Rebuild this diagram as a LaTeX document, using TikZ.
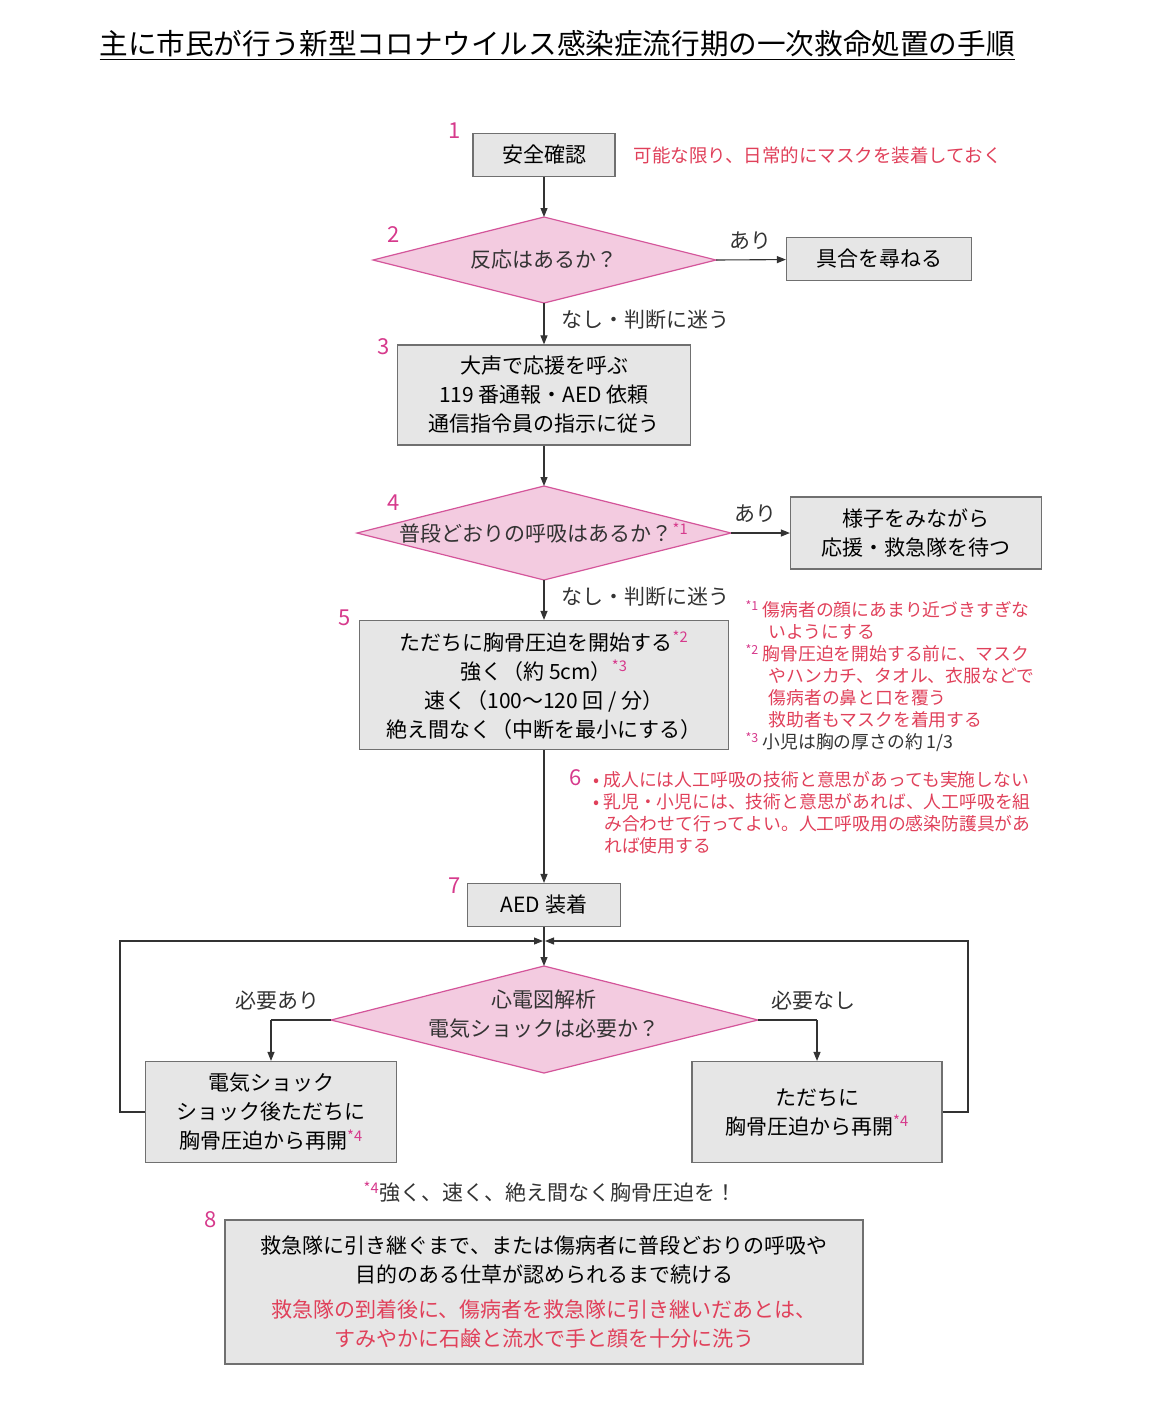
\documentclass[tikz,border=0pt]{standalone}
\usepackage{fontspec}
\setmainfont{Noto Sans CJK JP}
\usetikzlibrary{shapes.geometric,arrows.meta}
\definecolor{bx}{HTML}{E6E6E6}
\definecolor{bd}{HTML}{707070}
\definecolor{pk}{HTML}{F3CBE0}
\definecolor{pkb}{HTML}{D4559A}
\definecolor{rd}{HTML}{E0405A}
\definecolor{nm}{HTML}{D63A8C}
\newcommand{\fnm}[1]{{\color{nm}\textsuperscript{#1}}}
\begin{document}
\begin{tikzpicture}[x=1pt,y=-1pt,
  box/.style={draw=bd,fill=bx,line width=1.2pt,align=center,font=\fontsize{21}{29}\selectfont,inner sep=0},
  dia/.style={draw=pkb,fill=pk,line width=1.2pt},
  num/.style={text=nm,font=\fontsize{22}{22}\selectfont},
  lab/.style={font=\fontsize{21}{21}\selectfont,text=black!80},
  red/.style={text=rd,font=\fontsize{17.8}{22}\selectfont,align=left},
  ln/.style={line width=1.1pt,draw=black!80},
  ar/.style={ln,-{Triangle[length=9pt,width=7pt]}}]
\useasboundingbox (0,0) rectangle (1174,1406);
\node[anchor=west,font=\fontsize{28.6}{28.6}\selectfont] (title) at (96,45) {\underline{主に市民が行う新型コロナウイルス感染症流行期の一次救命処置の手順}};
% 1
\node[box,minimum width=142,minimum height=43] (b1) at (544,155) {安全確認};
\node[num] (n1) at (455,131) {1};
\node[red,anchor=west,font=\fontsize{18.5}{18.5}\selectfont] (r1) at (630,155) {可能な限り、日常的にマスクを装着しておく};
% 2
\coordinate (d2t) at (544,217); \coordinate (d2b) at (544,303);
\coordinate (d2l) at (373,260); \coordinate (d2r) at (716,260);
\draw[dia] (d2t)--(d2r)--(d2b)--(d2l)--cycle;
\node[lab] (t2) at (544,260) {反応はあるか？};
\node[num] (n2) at (394,235) {2};
\node[lab] (a2) at (750,241) {あり};
\node[box,minimum width=185,minimum height=43] (b2) at (879,259) {具合を尋ねる};
\draw[ar] (b1) -- (d2t);
\draw[ar] (d2r) -- (b2);
% 3
\node[box,minimum width=293,minimum height=100] (b3) at (544,395) {大声で応援を呼ぶ\\119 番通報・AED 依頼\\通信指令員の指示に従う};
\node[num] (n3) at (384,347) {3};
\node[lab,anchor=west] (x2) at (558,320) {なし・判断に迷う};
\draw[ar] (d2b) -- (b3);
% 4
\coordinate (d4t) at (544,486); \coordinate (d4b) at (544,580);
\coordinate (d4l) at (357,533); \coordinate (d4r) at (731,533);
\draw[dia] (d4t)--(d4r)--(d4b)--(d4l)--cycle;
\node[lab] (t4) at (544,533) {普段どおりの呼吸はあるか？\fnm{*1}};
\node[num] (n4) at (394,503) {4};
\node[lab] (a4) at (755,514) {あり};
\node[box,minimum width=251,minimum height=72] (b4) at (916,533) {様子をみながら\\応援・救急隊を待つ};
\draw[ar] (b3) -- (d4t);
\draw[ar] (d4r) -- (b4);
% 5
\node[box,minimum width=369,minimum height=129] (b5) at (544,685) {ただちに胸骨圧迫を開始する\fnm{*2}\\強く（約 5cm）\fnm{*3}\\速く（100〜120 回 / 分）\\絶え間なく（中断を最小にする）};
\node[num] (n5) at (345,618) {5};
\node[lab,anchor=west] (x4) at (558,597) {なし・判断に迷う};
\draw[ar] (d4b) -- (b5);
\node[red,anchor=north west] (fn) at (742,597) {\fnm{*1} 傷病者の顔にあまり近づきすぎな\\\hspace*{1.3em}いようにする\\\fnm{*2} 胸骨圧迫を開始する前に、マスク\\\hspace*{1.3em}やハンカチ、タオル、衣服などで\\\hspace*{1.3em}傷病者の鼻と口を覆う\\\hspace*{1.3em}救助者もマスクを着用する\\{\color{black!80}\fnm{*3} 小児は胸の厚さの約 1/3}};
% 6
\node[num] (n6) at (576,778) {6};
\node[red,anchor=north west] (r6) at (590,768) {• 成人には人工呼吸の技術と意思があっても実施しない\\• 乳児・小児には、技術と意思があれば、人工呼吸を組\\\hspace*{0.6em}み合わせて行ってよい。人工呼吸用の感染防護具があ\\\hspace*{0.6em}れば使用する};
% 7
\node[box,minimum width=153,minimum height=43] (b7) at (544,905) {AED 装着};
\node[num] (n7) at (455,886) {7};
\draw[ar] (b5) -- (b7);
% ECG
\coordinate (d6t) at (544,966); \coordinate (d6b) at (544,1073);
\coordinate (d6l) at (331,1020); \coordinate (d6r) at (758,1020);
\draw[dia] (d6t)--(d6r)--(d6b)--(d6l)--cycle;
\node[lab,align=center,font=\fontsize{21}{29}\selectfont] (t6) at (544,1014) {心電図解析\\電気ショックは必要か？};
\draw[ar] (b7) -- (d6t);
\node[box,minimum width=251,minimum height=101] (bl) at (271,1112) {電気ショック\\ショック後ただちに\\胸骨圧迫から再開\fnm{*4}};
\node[box,minimum width=250,minimum height=101] (br) at (817,1112) {ただちに\\胸骨圧迫から再開\fnm{*4}};
\node[lab] (yl) at (277,1001) {必要あり};
\node[lab] (yr) at (813,1001) {必要なし};
\coordinate (cl) at (271,1020); \coordinate (cr) at (817,1020);
\draw[ln] (d6l) -- (cl); \draw[ar] (cl) -- (bl.north);
\draw[ln] (d6r) -- (cr); \draw[ar] (cr) -- (br.north);
\coordinate (m) at (544,941);
\coordinate (ll) at (120,941); \coordinate (lb) at (120,1112);
\coordinate (rr) at (968,941); \coordinate (rb) at (968,1112);
\draw[ar] (bl.west) -- (lb) -- (ll) -- ([xshift=-1pt]m);
\draw[ar] (br.east) -- (rb) -- (rr) -- ([xshift=1pt]m);
\node[lab] (f4) at (550,1192) {\fnm{*4}強く、速く、絶え間なく胸骨圧迫を！};
% 8
\node[box,minimum width=638,minimum height=144] (b8) at (544,1292) {救急隊に引き継ぐまで、または傷病者に普段どおりの呼吸や\\目的のある仕草が認められるまで続ける\\[6pt]{\color{rd}救急隊の到着後に、傷病者を救急隊に引き継いだあとは、}\\{\color{rd}すみやかに石鹸と流水で手と顔を十分に洗う}};
\node[num] (n8) at (211,1220) {8};
\end{tikzpicture}
\end{document}
